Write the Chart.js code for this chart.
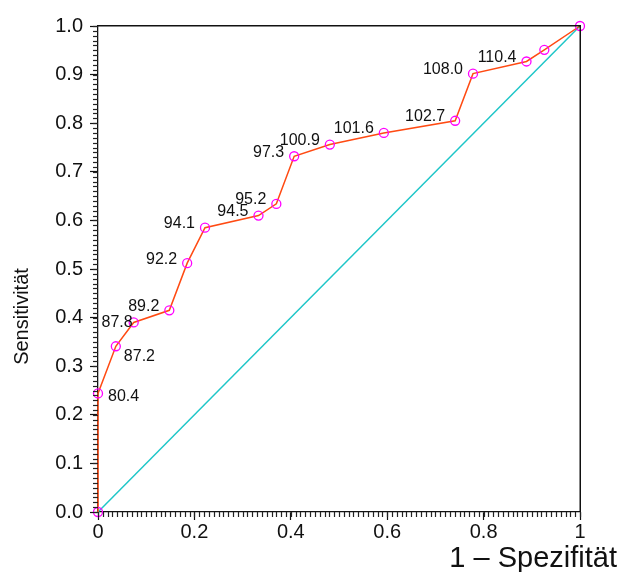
<!DOCTYPE html>
<html>
<head>
<meta charset="utf-8">
<script src="https://cdn.jsdelivr.net/npm/chart.js@4/dist/chart.umd.min.js"></script>
<style>
html,body{margin:0;padding:0;background:#fff;}
#wrap{width:621px;height:572px;}
</style>
</head>
<body>
<div id="wrap"><canvas id="c" width="621" height="572"></canvas></div>
<script>
// ---- data ----
const fpr = [0, 0, 0.037, 0.074, 0.148, 0.185, 0.222, 0.333, 0.370, 0.407, 0.481, 0.593, 0.741, 0.778, 0.889, 0.926, 1];
const tpr = [0, 0.244, 0.341, 0.390, 0.415, 0.512, 0.585, 0.610, 0.634, 0.732, 0.756, 0.780, 0.805, 0.902, 0.927, 0.951, 1];
const cutoffs = ['', '80.4', '87.2', '87.8', '89.2', '92.2', '94.1', '94.5', '95.2', '97.3', '100.9', '101.6', '102.7', '108.0', '110.4', '', ''];
const diagX = [0, 1];
const diagY = [0, 1];
const xTickLabels = ['0', '0.2', '0.4', '0.6', '0.8', '1'];
const yTickLabels = ['0.0', '0.1', '0.2', '0.3', '0.4', '0.5', '0.6', '0.7', '0.8', '0.9', '1.0'];
const minorStep = 0.01;
const xTitle = '1 \u2013 Spezifit\u00e4t';
const yTitle = 'Sensitivit\u00e4t';

// ---- styles ----
const FONT = '"Liberation Sans", Arial, Helvetica, sans-serif';
const TXT = '#111';
const defPlace = ['right', -10, -4];
const placeOverride = {1: ['left', 10, 3], 2: ['left', 8, 10], 3: ['right', -1, 0]};

const rocData = fpr.map((x, i) => ({x: x, y: tpr[i]}));
const diagData = diagX.map((x, i) => ({x: x, y: diagY[i]}));

const decor = {
  id: 'decor',
  afterDraw(chart) {
    const ctx = chart.ctx;
    const a = chart.chartArea;
    const xs = chart.scales.x, ys = chart.scales.y;
    ctx.save();
    ctx.fillStyle = '#111';
    // frame top/right
    ctx.fillRect(Math.round(a.left), Math.round(a.top) - 1, Math.round(a.right - a.left) + 1, 1.5);
    ctx.fillRect(Math.round(a.right) - 0.5, Math.round(a.top) - 1, 1.5, Math.round(a.bottom - a.top) + 1);
    // minor ticks
    ctx.fillStyle = '#222';
    const n = Math.round(1 / minorStep);
    for (let i = 0; i <= n; i++) {
      const v = i * minorStep;
      const px = Math.round(xs.getPixelForValue(v));
      ctx.fillRect(px - 0.1, a.bottom, 1.2, 5);
      const py = Math.round(ys.getPixelForValue(v));
      ctx.fillRect(a.left - 5, py - 0.1, 5, 1.2);
    }
    // point labels
    ctx.fillStyle = TXT;
    ctx.font = '16px ' + FONT;
    ctx.textBaseline = 'middle';
    const meta = chart.getDatasetMeta(0);
    meta.data.forEach((pt, i) => {
      const t = cutoffs[i];
      if (!t) return;
      const p = placeOverride[i] || defPlace;
      ctx.textAlign = p[0];
      ctx.fillText(t, pt.x + p[1], pt.y + p[2]);
    });
    // axis titles
    ctx.font = '29px ' + FONT;
    ctx.textAlign = 'right';
    ctx.textBaseline = 'alphabetic';
    ctx.fillText(xTitle, 617, 567);
    ctx.font = '20px ' + FONT;
    ctx.translate(28, 316.5);
    ctx.rotate(-Math.PI / 2);
    ctx.textAlign = 'center';
    ctx.fillText(yTitle, 0, 0);
    ctx.restore();
  }
};

new Chart(document.getElementById('c'), {
  type: 'scatter',
  data: {
    datasets: [
      {data: rocData, showLine: true, clip: false, borderColor: '#ff4a12', borderWidth: 1.5,
       pointRadius: 4.5, pointBorderWidth: 1.3, pointBorderColor: '#ff00ff',
       pointBackgroundColor: 'rgba(0,0,0,0)', tension: 0, order: 0},
      {data: diagData, showLine: true, clip: false, borderColor: '#1ec6c8', borderWidth: 1.5,
       pointRadius: 0, tension: 0, order: 1}
    ]
  },
  options: {
    responsive: false,
    animation: false,
    events: [],
    layout: {padding: {top: 26, right: 41, left: 0, bottom: 0}},
    plugins: {legend: {display: false}, tooltip: {enabled: false}},
    scales: {
      x: {
        type: 'linear', min: 0, max: 1,
        afterFit: s => { s.height = 60; },
        afterBuildTicks: s => { s.ticks = xTickLabels.map(l => ({value: parseFloat(l)})); },
        ticks: {autoSkip: false, maxRotation: 0, padding: 0, color: TXT, font: {family: FONT, size: 20},
                callback: (v, i) => xTickLabels[i]},
        grid: {drawOnChartArea: false, drawTicks: true, tickLength: 8, tickColor: '#111', tickWidth: 1.2},
        border: {display: true, color: '#111', width: 1.3}
      },
      y: {
        type: 'linear', min: 0, max: 1,
        afterFit: s => { s.width = 98; },
        afterBuildTicks: s => { s.ticks = yTickLabels.map(l => ({value: parseFloat(l)})); },
        ticks: {autoSkip: false, padding: 7, color: TXT, font: {family: FONT, size: 20},
                callback: (v, i) => yTickLabels[i]},
        grid: {drawOnChartArea: false, drawTicks: true, tickLength: 8, tickColor: '#111', tickWidth: 1.2},
        border: {display: true, color: '#111', width: 1.3}
      }
    }
  },
  plugins: [decor]
});
</script>
</body>
</html>
